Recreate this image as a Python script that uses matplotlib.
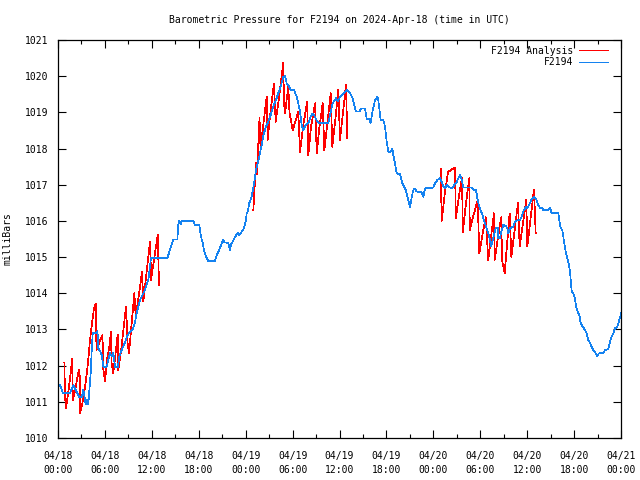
#!/usr/bin/env python3
"""Barometric pressure trace for station F2194, gnuplot-like styling."""
from datetime import datetime, timedelta

import matplotlib
matplotlib.use("Agg")
import matplotlib.pyplot as plt  # noqa: E402
import matplotlib.dates as mdates  # noqa: E402

START = datetime(2024, 4, 18, 0, 0)

# observed pressure, hours since 04/18 00:00 UTC
obs_hours = [
    0.26, 0.64, 1.53, 1.96, 2.69, 3.07, 3.24, 3.54, 3.71, 3.88, 4.18, 4.31, 4.44,
    4.95, 5.05, 5.15, 5.37, 5.59, 5.79, 6.23, 6.65, 6.87, 7.07, 7.29, 7.67, 7.84,
    8.15, 8.48, 8.91, 9.34, 9.50, 9.85, 10.06, 10.49, 10.91, 11.13, 11.55, 11.89,
    13.04, 13.98, 14.32, 14.75, 15.26, 15.39, 15.51, 15.69, 15.82, 17.30, 17.52,
    18.07, 18.25, 18.51, 18.71, 19.02, 19.22, 20.08, 20.30, 20.63, 20.85, 21.14,
    21.30, 21.48, 21.78, 22.00, 22.12, 22.34, 22.64, 22.98, 23.19, 23.49, 23.79,
    24.04, 24.13, 24.26, 24.46, 24.77, 25.07, 25.32, 25.54, 25.83, 26.05, 26.26,
    26.60, 26.90, 27.20, 27.53, 27.88, 28.17, 28.48, 28.81, 29.03, 29.25, 29.45,
    29.76, 30.18, 30.53, 30.73, 30.95, 31.17, 31.37, 31.68, 32.01, 32.32, 32.57,
    32.87, 33.16, 33.51, 33.93, 34.57, 34.79, 35.13, 35.55, 35.77, 36.06, 36.71,
    37.00, 37.34, 37.69, 37.89, 38.11, 38.53, 38.75, 39.26, 39.48, 39.81, 39.99,
    40.20, 40.54, 40.83, 40.96, 41.27, 41.56, 41.69, 41.82, 42.04, 42.24, 42.50,
    42.76, 42.88, 43.10, 43.32, 43.74, 43.91, 44.03, 44.25, 44.47, 44.67, 45.02,
    45.24, 45.44, 45.66, 45.87, 46.51, 46.72, 46.94, 48.00, 48.21, 48.51, 48.85,
    49.07, 49.27, 49.49, 49.71, 49.91, 50.35, 50.55, 50.99, 51.41, 51.63, 51.83,
    52.91, 53.20, 53.46, 53.67, 53.88, 54.03, 54.31, 54.48, 54.74, 54.95, 55.16,
    55.38, 55.59, 55.80, 56.01, 56.23, 56.31, 56.52, 56.65, 56.95, 57.29, 57.46,
    57.59, 57.81, 58.23, 58.45, 58.79, 59.08, 59.30, 59.50, 59.85, 60.02, 60.36,
    60.62, 60.87, 61.13, 61.43, 61.65, 61.86, 62.07, 62.71, 62.93, 63.14, 64.00,
    64.12, 64.29, 64.50, 64.71, 64.93, 65.14, 65.35, 65.48, 65.57, 65.70, 65.90,
    66.12, 66.25, 66.46, 66.67, 66.85, 67.10, 67.40, 67.61, 67.82, 68.04, 68.26,
    68.46, 68.77, 68.97, 69.19, 69.74, 69.96, 70.38, 70.60, 70.81, 71.02, 71.24,
    71.53, 71.69, 71.97, 72.00,
]
obs_mb = [
    1011.46, 1011.24, 1011.24, 1011.46, 1011.14, 1011.14, 1011.33, 1010.94, 1011.05,
    1010.94, 1011.80, 1012.43, 1012.90, 1012.90, 1012.95, 1012.49, 1012.40, 1012.30,
    1011.97, 1011.97, 1012.35, 1012.26, 1012.35, 1011.97, 1011.97, 1012.26, 1012.43,
    1012.60, 1012.85, 1012.95, 1012.98, 1013.20, 1013.45, 1013.81, 1014.00, 1014.10,
    1014.37, 1014.97, 1014.97, 1014.97, 1015.20, 1015.49, 1015.49, 1015.89, 1016.00,
    1015.90, 1016.00, 1016.00, 1015.89, 1015.89, 1015.60, 1015.38, 1015.15, 1014.97,
    1014.89, 1014.89, 1015.05, 1015.20, 1015.33, 1015.49, 1015.40, 1015.40, 1015.38,
    1015.20, 1015.35, 1015.43, 1015.55, 1015.67, 1015.60, 1015.70, 1015.80, 1016.02,
    1016.21, 1016.26, 1016.49, 1016.67, 1017.04, 1017.41, 1017.59, 1017.87, 1018.10,
    1018.37, 1018.60, 1018.75, 1018.93, 1019.16, 1019.34, 1019.53, 1019.71, 1019.99,
    1020.00, 1019.80, 1019.75, 1019.62, 1019.62, 1019.43, 1019.25, 1019.02, 1018.65,
    1018.51, 1018.65, 1018.71, 1018.88, 1018.97, 1018.88, 1018.74, 1018.70, 1018.71,
    1018.71, 1018.93, 1019.25, 1019.39, 1019.30, 1019.43, 1019.57, 1019.62, 1019.53,
    1019.39, 1019.20, 1019.02, 1019.02, 1019.11, 1019.11, 1018.81, 1018.81, 1018.71,
    1019.00, 1019.34, 1019.43, 1019.34, 1018.79, 1018.79, 1018.74, 1018.60, 1018.19,
    1017.91, 1017.91, 1018.00, 1017.82, 1017.59, 1017.31, 1017.29, 1017.15, 1017.04,
    1016.95, 1016.85, 1016.67, 1016.39, 1016.67, 1016.85, 1016.90, 1016.81, 1016.79,
    1016.67, 1016.90, 1016.92, 1017.04, 1017.13, 1017.18, 1017.08, 1016.95, 1016.90,
    1016.99, 1016.95, 1016.90, 1016.95, 1017.08, 1017.27, 1017.15, 1016.92, 1016.92,
    1016.85, 1016.85, 1016.58, 1016.39, 1016.30, 1016.16, 1016.00, 1015.84, 1015.70,
    1015.56, 1015.29, 1015.47, 1015.65, 1015.82, 1015.82, 1015.52, 1015.52, 1015.66,
    1015.89, 1015.85, 1015.80, 1015.66, 1015.80, 1015.84, 1015.98, 1016.02, 1016.02,
    1016.12, 1016.26, 1016.39, 1016.35, 1016.49, 1016.62, 1016.67, 1016.62, 1016.44,
    1016.35, 1016.37, 1016.30, 1016.30, 1016.37, 1016.21, 1016.21, 1016.00, 1015.80,
    1015.75, 1015.43, 1015.15, 1014.97, 1014.78, 1014.60, 1014.37, 1014.04, 1013.99,
    1013.86, 1013.63, 1013.49, 1013.40, 1013.17, 1013.08, 1012.98, 1012.89, 1012.71,
    1012.62, 1012.52, 1012.43, 1012.34, 1012.27, 1012.34, 1012.34, 1012.43, 1012.46,
    1012.66, 1012.80, 1012.89, 1013.03, 1013.08, 1013.20, 1013.40, 1013.45,
]

# analysis runs (three windows)
ana_a_hours = [0.81, 0.90, 1.02, 1.28, 1.60, 1.82, 1.89, 2.17, 2.66, 2.76, 2.84, 3.20,
               3.58, 3.84, 4.09, 4.35, 4.60, 4.83, 4.92, 5.24, 5.69, 5.78, 6.01, 6.30,
               6.56, 6.78, 6.85, 7.07, 7.63, 7.71, 8.06, 8.70, 8.91, 9.08, 9.76, 9.94,
               10.61, 10.74, 10.91, 11.68, 11.80, 11.89, 12.75, 12.92]
ana_a_mb = [1012.09, 1011.14, 1010.83, 1011.20, 1011.75, 1012.20, 1011.05, 1011.30,
            1011.88, 1011.88, 1010.69, 1011.05, 1011.60, 1012.10, 1012.70, 1013.18,
            1013.58, 1013.72, 1012.43, 1012.62, 1012.85, 1011.93, 1011.56, 1012.20,
            1012.52, 1012.94, 1012.06, 1011.79, 1012.85, 1011.88, 1012.40, 1013.63,
            1012.60, 1012.34, 1014.00, 1013.36, 1014.37, 1014.60, 1013.77, 1015.25,
            1015.43, 1014.37, 1015.61, 1014.23]

ana_b_hours = [24.98, 25.32, 25.45, 25.77, 25.90, 26.22, 26.69, 26.82, 27.11, 27.62,
               27.84, 28.26, 28.81, 28.90, 29.03, 29.45, 29.60, 30.02, 30.73, 30.95,
               31.33, 31.88, 32.01, 32.36, 32.87, 33.09, 33.38, 33.85, 34.06, 34.40,
               34.88, 35.08, 35.42, 35.85, 36.06, 36.45, 36.83, 37.00]
ana_b_mb = [1016.30, 1017.60, 1017.30, 1018.85, 1018.00, 1018.60, 1019.43, 1018.24,
            1018.90, 1019.80, 1018.74, 1019.40, 1020.37, 1019.25, 1018.97, 1019.71,
            1019.00, 1018.51, 1019.02, 1017.91, 1018.60, 1019.30, 1017.82, 1018.60,
            1019.25, 1017.87, 1018.50, 1019.25, 1017.96, 1018.60, 1019.53, 1018.05,
            1018.70, 1019.62, 1018.24, 1019.00, 1019.76, 1018.28]

ana_c_hours = [48.98, 49.05, 49.49, 49.88, 50.77, 50.88, 51.29, 51.67, 51.77, 52.18,
               52.60, 52.66, 53.07, 53.67, 53.88, 54.35, 54.71, 55.02, 55.75, 55.84,
               56.48, 56.67, 56.80, 57.12, 57.76, 57.98, 58.82, 59.04, 59.89, 60.02,
               60.87, 61.09]
ana_c_mb = [1017.45, 1015.98, 1016.80, 1017.35, 1017.48, 1016.07, 1016.70, 1017.20,
            1015.70, 1016.50, 1017.18, 1015.75, 1016.10, 1016.58, 1015.10, 1015.70,
            1016.10, 1014.92, 1016.21, 1014.92, 1015.84, 1016.10, 1014.90, 1014.55,
            1016.21, 1015.00, 1016.49, 1015.29, 1016.58, 1015.29, 1016.87, 1015.66]

RED = "#ff0000"
BLUE = "#1482f0"

plt.rcParams.update({
    "font.family": "DejaVu Sans Mono", "font.size": 7,
    "lines.antialiased": False,
})


def to_dt(hours):
    return [START + timedelta(hours=h) for h in hours]


fig = plt.figure(figsize=(6.4, 4.8), dpi=100)
ax = fig.add_axes([58 / 640, 42 / 480, 563 / 640, 398 / 480])

ana = [(ana_a_hours, ana_a_mb), (ana_b_hours, ana_b_mb), (ana_c_hours, ana_c_mb)]
for i, (hh, vv) in enumerate(ana):
    ax.plot(to_dt(hh), vv, color=RED, lw=0.5, label="F2194 Analysis" if i == 0 else None)
ax.plot(to_dt(obs_hours), obs_mb, color=BLUE, lw=0.5, label="F2194")

ax.set_xlim(START, START + timedelta(hours=72))
ax.set_ylim(1010, 1021)
ax.set_yticks(range(1010, 1022))
ax.xaxis.set_major_locator(mdates.HourLocator(byhour=range(0, 24, 6)))
ax.xaxis.set_minor_locator(mdates.HourLocator(byhour=range(0, 24, 3)))
ax.xaxis.set_major_formatter(mdates.DateFormatter("%m/%d\n%H:%M"))
ax.tick_params(which="both", direction="in", top=True, right=True, colors="black",
               labelsize=7, width=0.8)
ax.tick_params(which="major", length=6)
ax.tick_params(axis="x", which="major", pad=9)
ax.tick_params(axis="y", which="major", pad=7)
ax.tick_params(which="minor", length=3)
for lab in ax.get_xticklabels():
    lab.set_linespacing(1.55)
for s in ax.spines.values():
    s.set_linewidth(0.9)

ax.set_ylabel("milliBars", fontsize=7, labelpad=9)
ax.set_title("Barometric Pressure for F2194 on 2024-Apr-18 (time in UTC)",
             fontsize=7, pad=12)

leg = ax.legend(loc="upper right", bbox_to_anchor=(0.988, 1.0), frameon=False,
                markerfirst=False, handlelength=3.0, fontsize=7, borderaxespad=0.2,
                labelspacing=0.15, handletextpad=0.6)
for ln in leg.get_lines():
    ln.set_linewidth(0.6)

fig.savefig("out.png", dpi=100, facecolor="white")
